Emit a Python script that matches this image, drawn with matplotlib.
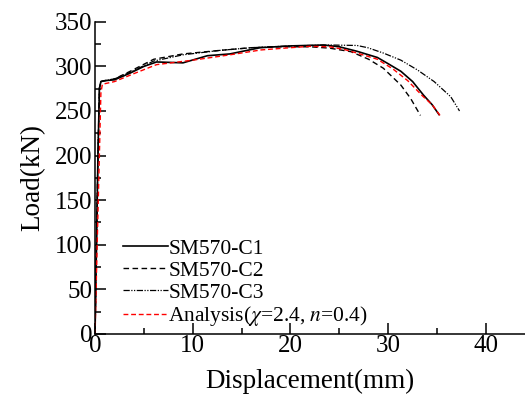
import matplotlib.pyplot as plt
from matplotlib.ticker import MultipleLocator

plt.rcParams['font.family'] = ['Liberation Serif', 'DejaVu Serif']
plt.rcParams['mathtext.fontset'] = 'stix'

# Test data (displacement mm, load kN)
c1_x = [0, 0.3, 0.45, 0.6, 1.0, 2.0, 3.5, 5.0, 6.3, 9.0, 11.5, 13.8, 16.9, 20.0, 23.4, 25.0, 26.8, 28.0, 28.9, 30.0, 31.3, 32.5, 33.6, 34.5, 35.2]
c1_y = [0, 200, 275, 283, 284, 285, 292, 300, 305, 304, 312, 314, 321, 323, 324, 322, 317, 313, 310, 303, 294.5, 283, 268, 257, 246]

c2_x = [0, 0.3, 0.45, 0.6, 1.0, 2.0, 3.5, 6.0, 9.0, 12.8, 16.0, 19.0, 22.0, 24.0, 26.2, 28.0, 29.5, 31.3, 32.3, 33.3]
c2_y = [0, 200, 276, 283, 284, 286, 294, 308, 314, 318, 321, 322, 322, 320.5, 316.5, 308, 298, 279, 264, 245]

c3_x = [0, 0.3, 0.45, 0.6, 1.0, 2.0, 3.5, 6.0, 9.0, 12.8, 16.0, 20.0, 24.0, 26.8, 27.9, 29.5, 31.3, 33.0, 34.7, 36.4, 37.3]
c3_y = [0, 200, 276, 283, 284, 286, 293, 306, 313, 318, 321, 323, 324, 323.5, 321, 315, 307, 296, 283, 266, 250]

fe_x = [0, 0.4, 0.6, 0.75, 2.0, 4.0, 6.3, 10.0, 13.8, 17.0, 20.0, 22.0, 24.0, 25.5, 26.8, 28.9, 30.5, 32.0, 33.5, 34.5, 35.3]
fe_y = [0, 180, 270, 280, 283, 292, 302, 307, 313, 318.5, 321, 322.5, 322, 319, 315, 308, 297, 284, 267, 257, 245]

fig = plt.figure(figsize=(5.25, 3.97), dpi=100)
ax = fig.add_axes([0.181, 0.159, 0.819, 0.786])

ax.plot(c1_x, c1_y, color='black', lw=1.2, ls='-', label='SM570-C1')
ax.plot(c2_x, c2_y, color='black', lw=1.0, ls=(0, (4, 2.5)), label='SM570-C2')
ax.plot(c3_x, c3_y, color='black', lw=0.9, ls=(0, (5, 1.2, 1, 1.2, 1, 1.2)), label='SM570-C3')
ax.plot(fe_x, fe_y, color='red', lw=1.0, ls=(0, (3.5, 2)), label=r'Analysis($\chi$=2.4, $n$=0.4)')

ax.set_xlim(0, 44)
ax.set_ylim(0, 350)
ax.xaxis.set_major_locator(MultipleLocator(10))
ax.xaxis.set_minor_locator(MultipleLocator(5))
ax.yaxis.set_major_locator(MultipleLocator(50))
ax.yaxis.set_minor_locator(MultipleLocator(25))
ax.tick_params(which='both', direction='in', labelsize=18, width=1.1)
ax.tick_params(which='major', length=8)
ax.tick_params(which='minor', length=4)
ax.tick_params(axis='x', pad=1)
ax.tick_params(axis='y', pad=2)
for s in ['top', 'right']:
    ax.spines[s].set_visible(False)
for s in ['left', 'bottom']:
    ax.spines[s].set_linewidth(1.1)

ax.set_xlabel('Displacement(mm)', fontsize=19.5, labelpad=8)
ax.set_ylabel('Load(kN)', fontsize=19.5, labelpad=7)

ax.legend(loc='lower left', bbox_to_anchor=(0.065, 0.018), frameon=False, fontsize=15.5,
          handlelength=2.1, handletextpad=0.0, labelspacing=0.08, borderpad=0.0,
          borderaxespad=0.0)

fig.savefig('out.png', dpi=100)
